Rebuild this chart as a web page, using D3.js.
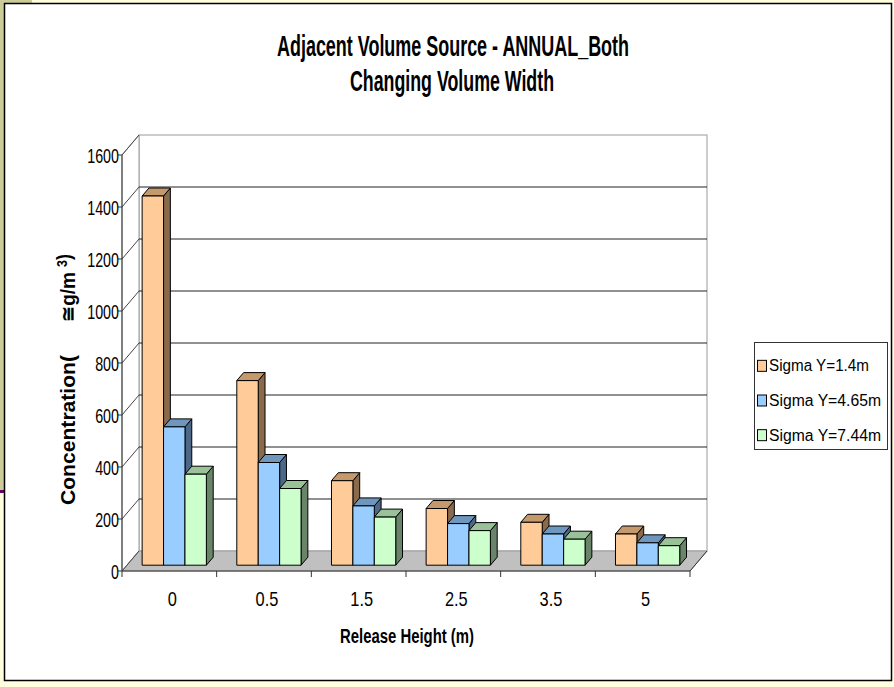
<!DOCTYPE html>
<html>
<head>
<meta charset="utf-8">
<script src="https://cdn.jsdelivr.net/npm/d3@7"></script>
<style>
  html, body { margin: 0; padding: 0; background: #ffffdd; }
  svg { display: block; }
  text { font-family: "Liberation Sans", Arial, sans-serif; fill: #000; }
</style>
</head>
<body>
<svg id="chart" width="894" height="687"></svg>
<script>
// Release heights (m) and annual concentrations for three lateral spreads
const categories = ["0", "0.5", "1.5", "2.5", "3.5", "5"];
const seriesNames = ["Sigma Y=1.4m", "Sigma Y=4.65m", "Sigma Y=7.44m"];
const sigma14 = [1420, 710, 325, 218, 165, 120];
const sigma465 = [532, 395, 228, 160, 120, 86];
const sigma744 = [350, 295, 185, 133, 100, 75];
const yTicks = [0, 200, 400, 600, 800, 1000, 1200, 1400, 1600];

// face colours per series: front, top, side
const frontColors = ["#ffcc99", "#99ccff", "#ccffcc"];
const topColors = ["#c49a6c", "#6f96bd", "#99c299"];
const sideColors = ["#8a6a4c", "#4d6886", "#698469"];

const seriesValues = [sigma14, sigma465, sigma744];

const svg = d3.select("#chart");

// page background and slide edges
svg.append("rect").attr("x", 0).attr("y", 0).attr("width", 894).attr("height", 687).attr("fill", "#ffffdd");
svg.append("rect").attr("x", 0).attr("y", 0).attr("width", 32).attr("height", 3).attr("fill", "#cccc99");
svg.append("rect").attr("x", 0).attr("y", 0).attr("width", 4).attr("height", 490).attr("fill", "#cccc99");
svg.append("rect").attr("x", 0).attr("y", 490).attr("width", 4).attr("height", 3).attr("fill", "#660066");

// chart frame
svg.append("rect").attr("x", 4.5).attr("y", 3.5).attr("width", 887).attr("height", 677)
  .attr("fill", "#ffffff").attr("stroke", "#000").attr("stroke-width", 1.5);

// 3-D box geometry (front plane + depth offset)
const left = 122, right = 690, yTop = 155, yBottom = 571;
const DX = 17, DY = -20;

const y = d3.scaleLinear().domain([0, 1600]).range([yBottom, yTop]);
const x0 = d3.scaleBand().domain(categories).range([left, right]).paddingInner(0).paddingOuter(0);
const x1 = d3.scaleBand().domain(seriesNames).range([0, x0.bandwidth()]).paddingInner(0).paddingOuter(0.71);

// condense helpers: squeeze a text element to a target width
function squeeze(sel, width) {
  sel.attr("textLength", width).attr("lengthAdjust", "spacingAndGlyphs");
}
function squeezeBy(sel, k) {
  sel.each(function () {
    const w = this.getComputedTextLength();
    d3.select(this).attr("textLength", w * k).attr("lengthAdjust", "spacingAndGlyphs");
  });
}

const walls = svg.append("g");

// back wall
walls.append("rect")
  .attr("x", left + DX).attr("y", y(1600) + DY)
  .attr("width", right - left).attr("height", y(0) - y(1600))
  .attr("fill", "#fff").attr("stroke", "#9a9a9a").attr("stroke-width", 1);

// side wall
walls.append("path")
  .attr("d", `M${left},${y(1600)} L${left + DX},${y(1600) + DY} L${left + DX},${y(0) + DY} L${left},${y(0)} Z`)
  .attr("fill", "#fff").attr("stroke", "#9a9a9a").attr("stroke-width", 1);

// floor
walls.append("path")
  .attr("d", `M${left},${y(0)} L${right},${y(0)} L${right + DX},${y(0) + DY} L${left + DX},${y(0) + DY} Z`)
  .attr("fill", "#c0c0c0").attr("stroke", "#9a9a9a").attr("stroke-width", 1);

// gridlines on the back wall and side wall
const gridTicks = yTicks.filter(t => t > 0 && t < 1600);
walls.selectAll(".grid").data(gridTicks).enter().append("line")
  .attr("x1", left + DX).attr("x2", right + DX)
  .attr("y1", d => y(d) + DY).attr("y2", d => y(d) + DY)
  .attr("stroke", "#222").attr("stroke-width", 1);
walls.selectAll(".diag").data(yTicks).enter().append("line")
  .attr("x1", left).attr("x2", left + DX)
  .attr("y1", d => y(d)).attr("y2", d => y(d) + DY)
  .attr("stroke", "#444").attr("stroke-width", 1);

// front value axis
walls.append("line").attr("x1", left).attr("x2", left).attr("y1", y(1600)).attr("y2", y(0))
  .attr("stroke", "#333").attr("stroke-width", 1);
walls.selectAll(".ytick").data(yTicks).enter().append("line")
  .attr("x1", left - 4).attr("x2", left).attr("y1", d => y(d)).attr("y2", d => y(d))
  .attr("stroke", "#333").attr("stroke-width", 1);

// category axis along the front edge of the floor
walls.append("line").attr("x1", left).attr("x2", right).attr("y1", y(0)).attr("y2", y(0))
  .attr("stroke", "#333").attr("stroke-width", 1);
walls.append("line").attr("x1", right).attr("x2", right + DX).attr("y1", y(0)).attr("y2", y(0) + DY)
  .attr("stroke", "#333").attr("stroke-width", 1);
const boundaries = categories.map(c => x0(c)).concat([right]);
walls.selectAll(".xtick").data(boundaries).enter().append("line")
  .attr("x1", d => d).attr("x2", d => d).attr("y1", y(0)).attr("y2", y(0) + 6)
  .attr("stroke", "#333").attr("stroke-width", 1);

// bars: front face sits part-way into the depth
const f = 0.29, g = 0.4;
const bdx = DX * g, bdy = DY * g;
const bars = svg.append("g").attr("stroke", "#000").attr("stroke-width", 1).attr("stroke-linejoin", "round");

categories.forEach((cat, ci) => {
  seriesNames.forEach((s, si) => {
    const v = seriesValues[si][ci];
    const bx = x0(cat) + x1(s) + DX * f;
    const bw = x1.bandwidth();
    const yt = y(v) + DY * f;
    const yb = y(0) + DY * f;
    const grp = bars.append("g");
    grp.append("path")
      .attr("d", `M${bx + bw},${yt} L${bx + bw + bdx},${yt + bdy} L${bx + bw + bdx},${yb + bdy} L${bx + bw},${yb} Z`)
      .attr("fill", sideColors[si]);
    grp.append("path")
      .attr("d", `M${bx},${yt} L${bx + bdx},${yt + bdy} L${bx + bw + bdx},${yt + bdy} L${bx + bw},${yt} Z`)
      .attr("fill", topColors[si]);
    grp.append("rect")
      .attr("x", bx).attr("y", yt).attr("width", bw).attr("height", yb - yt)
      .attr("fill", frontColors[si]);
  });
});

// y tick labels
svg.append("g").selectAll("text").data(yTicks).enter().append("text")
  .attr("x", left - 3).attr("y", d => y(d) + 7.5)
  .attr("text-anchor", "end").attr("font-size", 21)
  .text(d => d)
  .call(squeezeBy, 0.68);

// category labels
svg.append("g").selectAll("text").data(categories).enter().append("text")
  .attr("x", d => x0(d) + x0.bandwidth() / 2 + 3).attr("y", 606)
  .attr("text-anchor", "middle").attr("font-size", 21)
  .text(d => d)
  .call(squeezeBy, 0.78);

// titles
svg.append("text").attr("x", 453).attr("y", 56).attr("text-anchor", "middle")
  .attr("font-size", 29).attr("font-weight", "bold")
  .text("Adjacent Volume Source - ANNUAL_Both").call(squeeze, 352);
svg.append("text").attr("x", 452).attr("y", 91).attr("text-anchor", "middle")
  .attr("font-size", 29).attr("font-weight", "bold")
  .text("Changing Volume Width").call(squeeze, 204);

// axis titles
svg.append("text").attr("x", 407).attr("y", 643).attr("text-anchor", "middle")
  .attr("font-size", 20).attr("font-weight", "bold")
  .text("Release Height (m)").call(squeeze, 134);

const yTitle = svg.append("g").attr("transform", "translate(75,505) rotate(-90)");
yTitle.append("text").attr("x", 0).attr("y", 0).attr("font-size", 20).attr("font-weight", "bold")
  .text("Concentration(").call(squeeze, 150);
yTitle.append("text").attr("x", 183).attr("y", 0).attr("font-size", 20).attr("font-weight", "bold")
  .text("≅g/m").call(squeeze, 50);
yTitle.append("text").attr("x", 238).attr("y", -8).attr("font-size", 14).attr("font-weight", "bold")
  .text("3").call(squeeze, 7);
yTitle.append("text").attr("x", 245).attr("y", -4).attr("font-size", 20).attr("font-weight", "bold")
  .text(")").call(squeeze, 6);

// legend
const legend = svg.append("g");
legend.append("rect").attr("x", 754.5).attr("y", 342.5).attr("width", 133).attr("height", 107)
  .attr("fill", "#fff").attr("stroke", "#333").attr("stroke-width", 1);
const legendWidths = [100, 112, 112];
const rowY = d3.scaleBand().domain(seriesNames).range([349, 453]);
seriesNames.forEach((s, i) => {
  const cy = rowY(s) + rowY.bandwidth() / 2 - 1;
  legend.append("rect").attr("x", 757.5).attr("y", cy - 5).attr("width", 9).attr("height", 11)
    .attr("fill", frontColors[i]).attr("stroke", "#000").attr("stroke-width", 1);
  legend.append("text").attr("x", 769).attr("y", cy + 6).attr("font-size", 16)
    .text(s).call(squeeze, legendWidths[i]);
});
</script>
</body>
</html>
